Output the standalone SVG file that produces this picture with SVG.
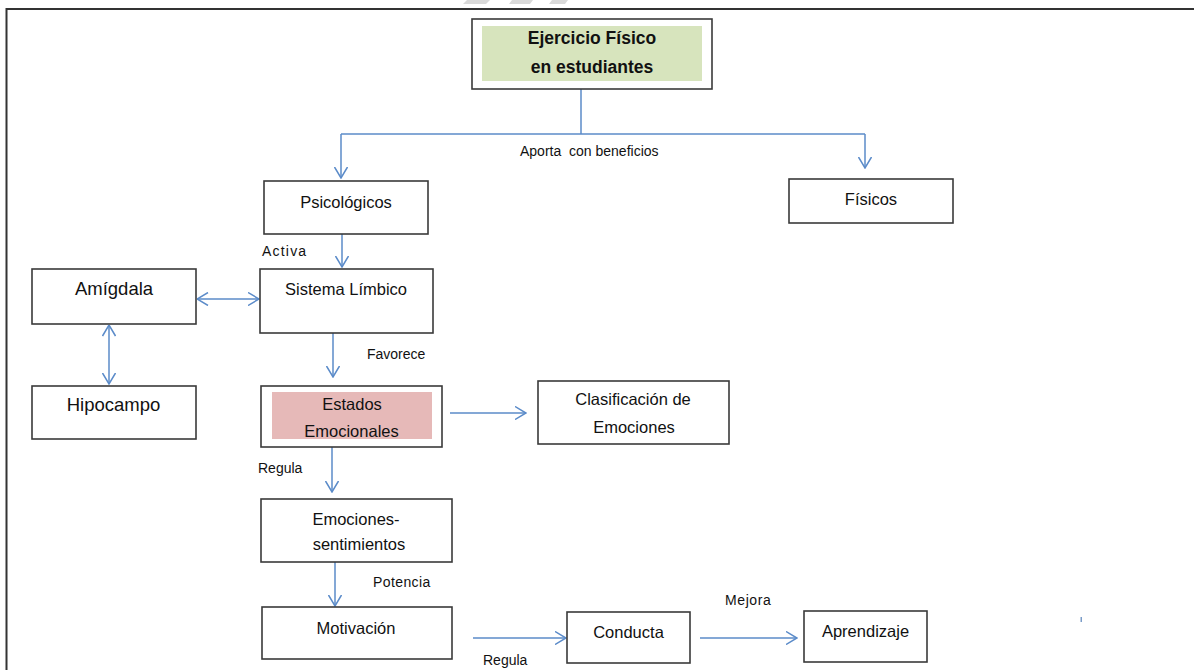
<svg xmlns="http://www.w3.org/2000/svg" width="1194" height="670" viewBox="0 0 1194 670">
<style>
.box{fill:#fff;stroke:#3a3a3a;stroke-width:1.6}
.t{font-family:"Liberation Sans",Arial,sans-serif;font-size:16.5px;fill:#111;text-anchor:middle}
.big{font-size:18.5px}
.title{font-weight:bold;font-size:17.5px}
.lbl{font-family:"Liberation Sans",Arial,sans-serif;font-size:14px;fill:#111}
.c{fill:none;stroke:#5B8BC9;stroke-width:1.5}
</style>
<defs>
<marker id="ah" viewBox="0 0 12 14" refX="11.5" refY="7" markerWidth="12" markerHeight="14" markerUnits="userSpaceOnUse" orient="auto-start-reverse">
<path d="M0.5,0.5 L11.5,7 L0.5,13.5" fill="none" stroke="#5B8BC9" stroke-width="1.5"/>
</marker>
</defs>
<rect width="1194" height="670" fill="#fff"/>
<g id="watermark" fill="#d9d9d9">
<polygon points="467,0 490,0 486,4 463,4"/>
<polygon points="512,0 533,0 530,4 509,4"/>
<polygon points="552,0 568,0 565,4 549,4"/>
</g>
<path id="frame" d="M6.5,680 V9 H1200" fill="none" stroke="#333" stroke-width="2"/>
<g id="connectors">
<path class="c" d="M581,89 V134"/>
<path class="c" d="M341,134 H865"/>
<path class="c" d="M341,134 V178" marker-end="url(#ah)"/>
<path class="c" d="M865,134 V168" marker-end="url(#ah)"/>
<path class="c" d="M342,234 V267" marker-end="url(#ah)"/>
<path class="c" d="M197,299 H259" marker-start="url(#ah)" marker-end="url(#ah)"/>
<path class="c" d="M109,325 V384" marker-start="url(#ah)" marker-end="url(#ah)"/>
<path class="c" d="M333,333 V377" marker-end="url(#ah)"/>
<path class="c" d="M450,413 H526" marker-end="url(#ah)"/>
<path class="c" d="M332,447 V492" marker-end="url(#ah)"/>
<path class="c" d="M335,562 V606" marker-end="url(#ah)"/>
<path class="c" d="M473,638 H566" marker-end="url(#ah)"/>
<path class="c" d="M700,638 H797" marker-end="url(#ah)"/>
<text class="lbl" x="520" y="156" xml:space="preserve">Aporta  con beneficios</text>
<text class="lbl" x="262" y="256" letter-spacing="1.2">Activa</text>
<text class="lbl" x="367" y="359">Favorece</text>
<text class="lbl" x="258" y="473">Regula</text>
<text class="lbl" x="373" y="587" letter-spacing="0.4">Potencia</text>
<text class="lbl" x="483" y="665">Regula</text>
<text class="lbl" x="725" y="605" letter-spacing="0.6">Mejora</text>
<rect x="1080.5" y="617" width="1.5" height="5" fill="#7a9cc8"/>
</g>
<g id="n-title">
<rect class="box" x="472" y="19" width="240" height="70"/>
<rect x="482" y="26" width="220" height="55" fill="#D7E4BD"/>
<text class="t title" x="592" y="44">Ejercicio Físico</text>
<text class="t title" x="592" y="73">en estudiantes</text>
</g>
<g id="n-psicologicos">
<rect class="box" x="264" y="181" width="164" height="53"/>
<text class="t" x="346" y="208">Psicológicos</text>
</g>
<g id="n-fisicos">
<rect class="box" x="789" y="179" width="164" height="44"/>
<text class="t" x="871" y="205">Físicos</text>
</g>
<g id="n-amigdala">
<rect class="box" x="32" y="269" width="164" height="55"/>
<text class="t big" x="114" y="295">Amígdala</text>
</g>
<g id="n-sistema">
<rect class="box" x="260" y="269" width="173" height="64"/>
<text class="t" x="346" y="295">Sistema Límbico</text>
</g>
<g id="n-hipocampo">
<rect class="box" x="32" y="386" width="164" height="53"/>
<text class="t big" x="113.5" y="411">Hipocampo</text>
</g>
<g id="n-estados">
<rect class="box" x="261" y="386" width="181" height="61"/>
<rect x="272" y="392" width="160" height="47" fill="#E6B9B8"/>
<text class="t" x="352" y="410">Estados</text>
<text class="t" x="351.5" y="437">Emocionales</text>
</g>
<g id="n-clasificacion">
<rect class="box" x="538" y="381" width="191" height="63"/>
<text class="t" x="633" y="405">Clasificación de</text>
<text class="t" x="634" y="433">Emociones</text>
</g>
<g id="n-emociones">
<rect class="box" x="261" y="499" width="191" height="63"/>
<text class="t" x="356" y="525">Emociones-</text>
<text class="t" x="359" y="550">sentimientos</text>
</g>
<g id="n-motivacion">
<rect class="box" x="262" y="607" width="190" height="52"/>
<text class="t" x="356" y="634">Motivación</text>
</g>
<g id="n-conducta">
<rect class="box" x="567" y="612" width="123" height="51"/>
<text class="t" x="628.5" y="638">Conducta</text>
</g>
<g id="n-aprendizaje">
<rect class="box" x="804" y="611" width="123" height="51"/>
<text class="t" x="865.5" y="637">Aprendizaje</text>
</g>
</svg>
